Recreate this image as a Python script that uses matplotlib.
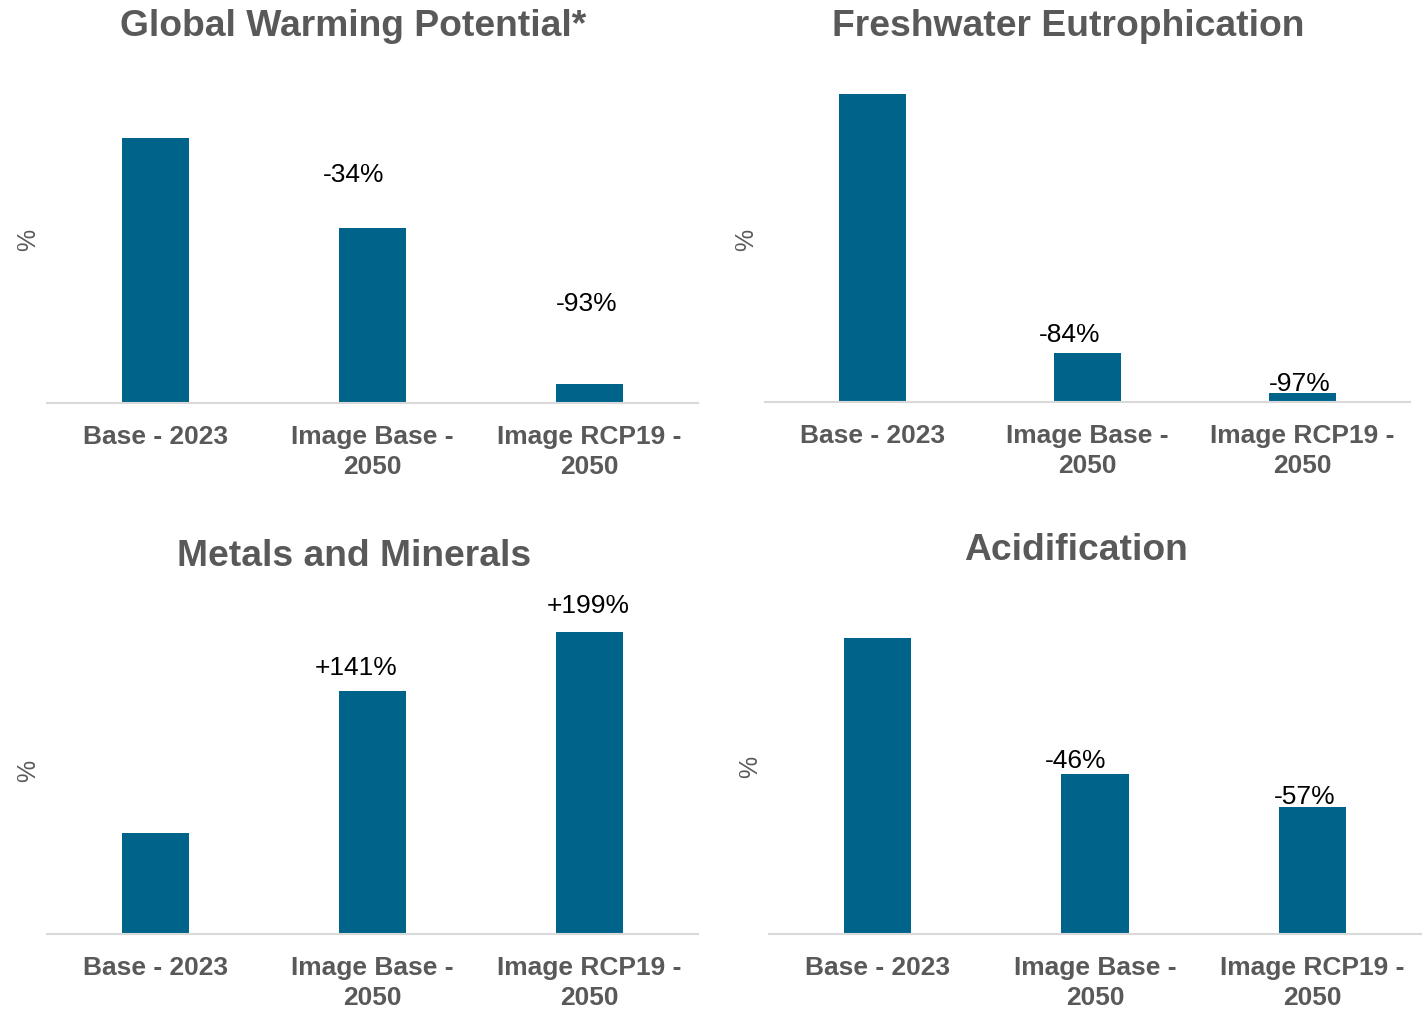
import matplotlib
matplotlib.use("Agg")
import matplotlib.pyplot as plt

plt.rcParams['font.family'] = ['Liberation Sans', 'DejaVu Sans']

categories = ["Base - 2023", "Image Base -\n2050", "Image RCP19 -\n2050"]

titles = ["Global Warming Potential*", "Freshwater Eutrophication",
          "Metals and Minerals", "Acidification"]

# Change relative to the 2023 base (base = 100)
gwp_change = [0, -34, -93]
fe_change = [0, -84, -97]
mm_change = [0, 141, 199]
ac_change = [0, -46, -57]

W, H = 1427, 1010
BAR = "#00638A"
GREY = "#595959"

fig = plt.figure(figsize=(W / 100, H / 100), dpi=100)


def px_axes(x0, x1, y_base, y_top):
    return fig.add_axes([x0 / W, 1 - y_base / H, (x1 - x0) / W, (y_base - y_top) / H])


def panel(x0, x1, y_base, y_top, px_per_100, changes, title, title_xy, pct_xy, offsets):
    ax = px_axes(x0, x1, y_base, y_top)
    values = [100 + c for c in changes]
    ymax = (y_base - y_top) / px_per_100 * 100
    ax.bar(range(3), values, width=0.31, color=BAR)
    ax.set_xlim(-0.5, 2.5)
    ax.set_ylim(0, ymax)
    for s in ["top", "right", "left"]:
        ax.spines[s].set_visible(False)
    ax.spines["bottom"].set_color("#D9D9D9")
    ax.spines["bottom"].set_linewidth(1.5)
    ax.set_yticks([])
    ax.set_xticks(range(3))
    ax.set_xticklabels(categories, fontsize=19, fontweight="bold", color=GREY,
                       linespacing=1.33)
    ax.tick_params(axis="x", length=0, pad=16)
    # value labels, offset (in pixels) from the top centre of each bar
    for i in range(1, 3):
        sign = "+" if changes[i] > 0 else ""
        txt = f"{sign}{changes[i]}%"
        dx, dy = offsets[i - 1]
        ax.annotate(txt, (i, values[i]), xytext=(dx * 0.72, (dy - 3) * 0.72),
                    textcoords="offset points", ha="center", va="center",
                    fontsize=19, color="black")
    fig.text(title_xy[0] / W, 1 - title_xy[1] / H, title, ha="center", va="center",
             fontsize=26.8, fontweight="bold", color=GREY)
    fig.text(pct_xy[0] / W, 1 - pct_xy[1] / H, "%", ha="center", va="center",
             rotation=90, fontsize=18, color=GREY)
    return ax


panel(47, 698, 403, 60, 265, gwp_change, titles[0], (353, 27), (28, 240),
      [(-18.5, 56), (-3, 83)])
panel(765, 1410, 402, 60, 308, fe_change, titles[1], (1068, 27), (746, 240),
      [(-18, 21), (-2.5, 12)])
panel(47, 698, 934, 590, 101, mm_change, titles[2], (354, 557), (28, 771),
      [(-16, 26), (-1, 29)])
panel(769, 1421, 934, 590, 296, ac_change, titles[3], (1076, 550), (750, 767),
      [(-19.5, 16), (-8, 13)])

fig.savefig("out.png", dpi=100, facecolor="white")
